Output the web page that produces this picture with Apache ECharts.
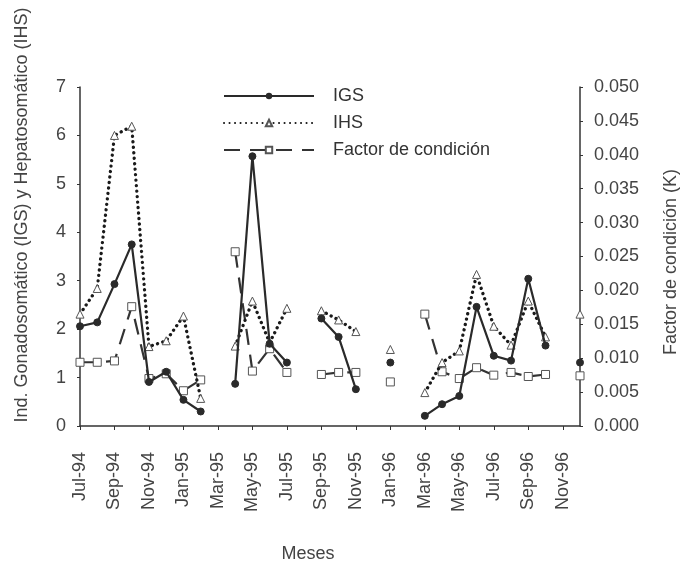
<!DOCTYPE html>
<html>
<head>
<meta charset="utf-8">
<script src="https://cdn.jsdelivr.net/npm/echarts@6/dist/echarts.min.js"></script>
<style>
html,body{margin:0;padding:0;background:#fff;}
#chart{width:683px;height:565px;}
</style>
</head>
<body>
<div id="chart"></div>
<script>
var months = ["Jul-94","Aug-94","Sep-94","Oct-94","Nov-94","Dec-94","Jan-95","Feb-95","Mar-95","Apr-95","May-95","Jun-95","Jul-95","Aug-95","Sep-95","Oct-95","Nov-95","Dec-95","Jan-96","Feb-96","Mar-96","Apr-96","May-96","Jun-96","Jul-96","Aug-96","Sep-96","Oct-96","Nov-96","Dec-96"];
var igs = [2.06,2.14,2.93,3.75,0.91,1.12,0.54,0.30,null,0.87,5.57,1.70,1.31,null,2.22,1.84,0.76,null,1.31,null,0.21,0.45,0.62,2.46,1.45,1.35,3.04,1.66,null,1.31];
var ihs = [2.31,2.84,6.00,6.19,1.64,1.76,2.27,0.57,null,1.65,2.58,1.72,2.43,null,2.38,2.19,1.95,null,1.58,null,0.69,1.31,1.55,3.13,2.06,1.67,2.58,1.84,null,2.31];
var kFactor = [0.0094,0.0094,0.0096,0.0176,0.0070,0.0077,0.0052,0.0068,null,0.0257,0.0081,0.0114,0.0079,null,0.0076,0.0079,0.0079,null,0.0065,null,0.0165,0.0080,0.0070,0.0086,0.0075,0.0079,0.0073,0.0076,null,0.0074];
var seriesNames = ["IGS","IHS","Factor de condición"];
var leftTitle = "Ind. Gonadosomático (IGS) y Hepatosomático (IHS)";
var rightTitle = "Factor de condición (K)";
var xTitle = "Meses";

var FONT = "Liberation Sans, Arial, sans-serif";
var TXT = "#444";
var chart = echarts.init(document.getElementById('chart'));
chart.setOption({
  backgroundColor: '#fff',
  animation: false,
  textStyle: {fontFamily: FONT},
  grid: {left: 80, right: 103, top: 87, bottom: 139},
  legend: {
    orient: 'vertical', left: 218, top: 82,
    itemWidth: 90, itemHeight: 8, itemGap: 9,
    textStyle: {fontSize: 18, color: '#333', fontFamily: FONT, padding: [0,0,0,14]},
    data: seriesNames
  },
  xAxis: {
    type: 'category', boundaryGap: false, data: months,
    axisLine: {lineStyle: {color: '#333', width: 1.5}},
    axisTick: {show: true, interval: 1, length: 4, lineStyle: {color: '#333'}},
    axisLabel: {interval: 1, rotate: 90, margin: 26, fontSize: 18, color: TXT, fontFamily: FONT},
    splitLine: {show: false}
  },
  yAxis: [
    {type: 'value', min: 0, max: 7, interval: 1,
     axisLine: {show: true, lineStyle: {color: '#333', width: 1.5}},
     axisTick: {show: true, length: 3, lineStyle: {color: '#333'}},
     axisLabel: {fontSize: 18, color: TXT, margin: 14, fontFamily: FONT},
     splitLine: {show: false}},
    {type: 'value', min: 0, max: 0.05, interval: 0.005, position: 'right',
     axisLine: {show: true, lineStyle: {color: '#333', width: 1.5}},
     axisTick: {show: true, length: 3, lineStyle: {color: '#333'}},
     axisLabel: {fontSize: 18, color: TXT, margin: 14, fontFamily: FONT,
       formatter: function(v){ return v.toFixed(3); }},
     splitLine: {show: false}}
  ],
  graphic: [
    {type: 'text', x: 22, y: 215, rotation: Math.PI/2,
     style: {text: leftTitle, fontSize: 18, fill: TXT, fontFamily: FONT, align: 'center', verticalAlign: 'middle'}},
    {type: 'text', x: 671, y: 262, rotation: Math.PI/2,
     style: {text: rightTitle, fontSize: 18, fill: TXT, fontFamily: FONT, align: 'center', verticalAlign: 'middle'}},
    {type: 'text', x: 308, y: 554,
     style: {text: xTitle, fontSize: 18, fill: TXT, fontFamily: FONT, align: 'center', verticalAlign: 'middle'}}
  ],
  series: [
    {name: seriesNames[2], type: 'line', yAxisIndex: 1, data: kFactor,
     symbol: 'rect', symbolSize: 8, showSymbol: true, connectNulls: false,
     lineStyle: {color: '#333', width: 2.2, type: [16, 10]},
     itemStyle: {color: '#fff', borderColor: '#555', borderWidth: 1}, z: 2},
    {name: seriesNames[1], type: 'line', data: ihs,
     symbol: 'triangle', symbolSize: 8, showSymbol: true, connectNulls: false,
     lineStyle: {color: '#1a1a1a', width: 3.3, type: [0.1, 5.4], cap: 'round'},
     itemStyle: {color: '#fff', borderColor: '#555', borderWidth: 1}, z: 3},
    {name: seriesNames[0], type: 'line', data: igs,
     symbol: 'circle', symbolSize: 7, showSymbol: true, connectNulls: false,
     lineStyle: {color: '#2a2a2a', width: 2.2},
     itemStyle: {color: '#2a2a2a', borderColor: '#2a2a2a'}, z: 4}
  ]
});
</script>
</body>
</html>
